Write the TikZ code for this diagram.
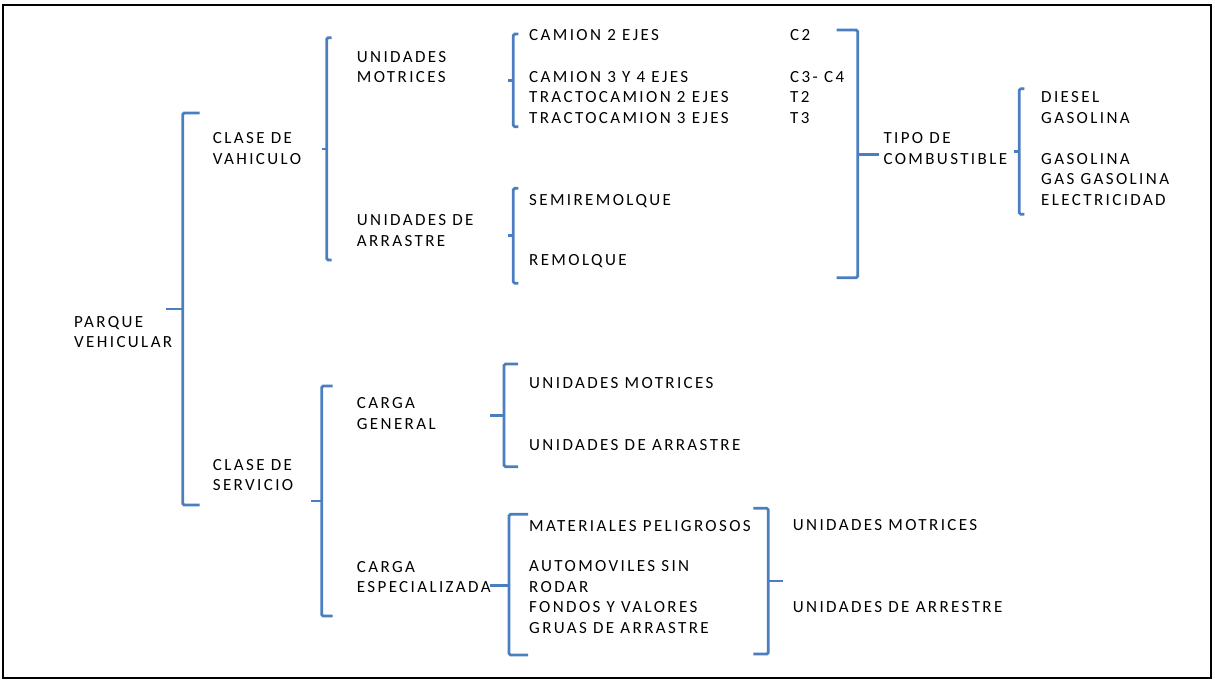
\documentclass[tikz,border=0pt]{standalone}
\usepackage{fontspec}
\setmainfont{Carlito}[LetterSpace=14]
\usepackage{xcolor}
\usepackage{tikz}
\usetikzlibrary{positioning}
\definecolor{braceblue}{RGB}{74,126,190}
\tikzset{
	brace/.style={draw=braceblue, line width=2.8pt, rounded corners=1.5pt},
	label/.style={anchor=base west, inner sep=0pt, align=left, font=\fontsize{17}{20.5}\selectfont},
}
\newcommand{\openBrace}[5]
{
	\draw[brace] (#1+#5,#2) -- (#1,#2) -- (#1,#4) -- (#1+#5,#4);
	\draw[brace] (#1,#3) -- (#1-#5,#3);
}
\newcommand{\closeBrace}[5]
{
	\draw[brace] (#1-#5,#2) -- (#1,#2) -- (#1,#4) -- (#1-#5,#4);
	\draw[brace] (#1,#3) -- (#1+#5,#3);
}
\begin{document}
\begin{tikzpicture}[x=1pt,y=-1pt,every node/.style={label}]
\useasboundingbox (0,0) rectangle (1215,680);
\draw[line width=2pt] (3,5) rectangle (1211,678);

% multi-line nodes sit on the baseline of their last line
\node (parque)    at (74,347.8)    {PARQUE\\VEHICULAR};
\node (claseVeh)  at (212.7,164)   {CLASE DE\\VAHICULO};
\node (claseServ) at (212.7,490.7) {CLASE DE\\SERVICIO};

\node (uMotrices) at (356.7,82.7)  {UNIDADES\\MOTRICES};
\node (uArrastre) at (356.7,246)   {UNIDADES DE\\ARRASTRE};
\node (cGeneral)  at (356.7,429.3) {CARGA\\GENERAL};
\node (cEspecial) at (356.7,592.7) {CARGA\\ESPECIALIZADA};

\node (camDos)    at (529,40.7)  {CAMION 2 EJES};
\node (camTres)   at (529,123.3) {CAMION 3 Y 4 EJES\\TRACTOCAMION 2 EJES\\TRACTOCAMION 3 EJES};
\node (codDos)    at (790,40.7)  {C2};
\node (codTres)   at (790,123.3) {C3- C4\\T2\\T3};
\node (semi)      at (529,205)   {SEMIREMOLQUE};
\node (remolque)  at (529,265.7) {REMOLQUE};

\node (tipo)      at (883.3,164)   {TIPO DE\\COMBUSTIBLE};
\node (diesel)    at (1041,123.3)  {DIESEL\\GASOLINA};
\node (gasolina)  at (1041,205)    {GASOLINA\\GAS GASOLINA\\ELECTRICIDAD};

\node (genMot)    at (529,388.3) {UNIDADES MOTRICES};
\node (genArr)    at (529,450)   {UNIDADES DE ARRASTRE};
\node (matPel)    at (529,531)   {MATERIALES PELIGROSOS};
\node (autos)     at (529,633.3) {AUTOMOVILES SIN\\RODAR\\FONDOS Y VALORES\\GRUAS DE ARRASTRE};
\node (espMot)    at (792.7,530.7) {UNIDADES MOTRICES};
\node (espArr)    at (792.7,612.7) {UNIDADES DE ARRESTRE};

\openBrace{182.7}{113}{309}{505}{17}
\openBrace{326.7}{37.7}{149}{260}{5}
\openBrace{321.7}{386}{501}{616}{11}
\openBrace{513.3}{34}{80.7}{126.7}{5}
\openBrace{513.3}{188.3}{235.7}{283.3}{5}
\openBrace{1019.3}{88.7}{151.7}{214.3}{5}
\openBrace{504}{364}{415.7}{466.7}{14}
\openBrace{509}{514.3}{585.7}{655}{19}
\closeBrace{857.7}{30}{154.3}{277.7}{21}
\closeBrace{768.3}{508.3}{581}{654}{15}
\end{tikzpicture}
\end{document}
